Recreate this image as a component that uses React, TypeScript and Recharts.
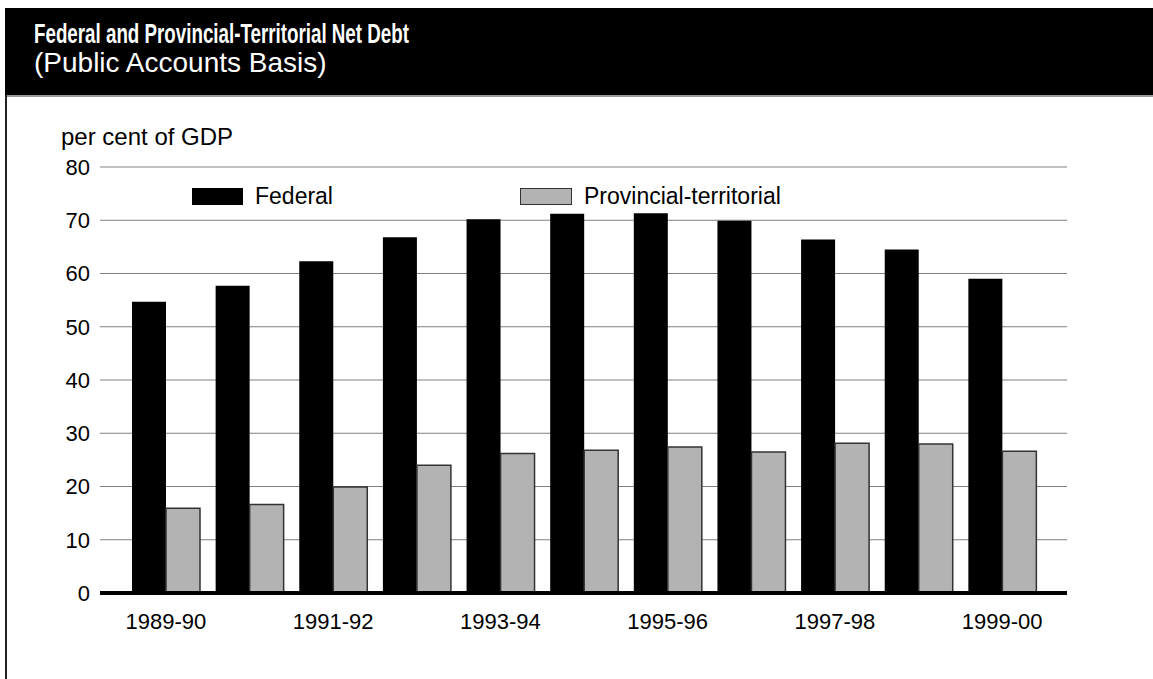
import React from 'react';
import {
  BarChart,
  Bar,
  XAxis,
  YAxis,
  CartesianGrid,
  Legend,
} from 'recharts';

const years = [
  '1989-90', '1990-91', '1991-92', '1992-93', '1993-94', '1994-95',
  '1995-96', '1996-97', '1997-98', '1998-99', '1999-00',
];
const federal = [54.7, 57.7, 62.3, 66.8, 70.2, 71.2, 71.3, 69.9, 66.4, 64.5, 59.0];
const provincial = [15.9, 16.6, 19.9, 24.0, 26.2, 26.8, 27.4, 26.5, 28.1, 28.0, 26.6];
const yTicks = [0, 10, 20, 30, 40, 50, 60, 70, 80];

const data = years.map((year, i) => ({
  year,
  federal: federal[i],
  provincial: provincial[i],
}));

const FONT = '"Liberation Sans", Arial, Helvetica, sans-serif';

const LegendContent = () => (
  <div style={{ display: 'flex', alignItems: 'center', fontFamily: FONT, fontSize: 23, color: '#000' }}>
    <div style={{ width: 51, height: 17, background: '#000' }} />
    <span style={{ marginLeft: 12, width: 265 }}>Federal</span>
    <div style={{ width: 50, height: 15, background: '#b3b3b3', border: '1px solid #333' }} />
    <span style={{ marginLeft: 12 }}>Provincial-territorial</span>
  </div>
);

export default function App() {
  return (
    <div style={{ position: 'absolute', left: 0, top: 0, width: 1153, height: 679, background: '#fff', fontFamily: FONT }}>
      {/* header */}
      <div style={{ position: 'absolute', left: 5, top: 8, width: 1148, height: 87, background: '#000', borderBottom: '2px solid #999' }}>
        <div style={{ position: 'absolute', left: 29, top: 12, height: 28, lineHeight: '28px', color: '#fff', fontSize: 28, fontWeight: 'bold', whiteSpace: 'nowrap', transform: 'scaleX(0.67)', transformOrigin: 'left top' }}>
          Federal and Provincial-Territorial Net Debt
        </div>
        <div style={{ position: 'absolute', left: 29, top: 41, height: 28, lineHeight: '28px', color: '#fff', fontSize: 28, whiteSpace: 'nowrap' }}>
          (Public Accounts Basis)
        </div>
      </div>
      {/* left frame line */}
      <div style={{ position: 'absolute', left: 5, top: 95, width: 2, height: 584, background: '#222' }} />
      <div style={{ position: 'absolute', left: 61, top: 123, fontSize: 24, color: '#000', whiteSpace: 'nowrap' }}>
        per cent of GDP
      </div>
      <div style={{ position: 'absolute', left: 0, top: 0 }}>
        <BarChart
          width={1153}
          height={679}
          data={data}
          margin={{ top: 167, right: 86, bottom: 56, left: 40 }}
          barCategoryGap={8}
          barGap={0}
        >
          <CartesianGrid vertical={false} stroke="#808080" strokeWidth={1} />
          <XAxis
            dataKey="year"
            height={30}
            interval={1}
            tickLine={false}
            tickSize={0}
            tickMargin={20}
            axisLine={{ stroke: '#000', strokeWidth: 4 }}
            padding={{ left: 24, right: 23 }}
            tick={{ fill: '#000', fontSize: 22, fontFamily: FONT }}
          />
          <YAxis
            width={60}
            domain={[0, 80]}
            ticks={yTicks}
            interval={0}
            tickLine={false}
            axisLine={false}
            tickSize={0}
            tickMargin={10}
            tick={{ fill: '#000', fontSize: 22, fontFamily: FONT }}
          />
          <Legend
            layout="horizontal"
            verticalAlign="middle"
            align="center"
            content={LegendContent}
            wrapperStyle={{ top: 183, left: 192, width: 700 }}
          />
          <Bar dataKey="federal" fill="#000" isAnimationActive={false} />
          <Bar dataKey="provincial" fill="#b3b3b3" stroke="#333" strokeWidth={1.5} isAnimationActive={false} />
        </BarChart>
      </div>
    </div>
  );
}
